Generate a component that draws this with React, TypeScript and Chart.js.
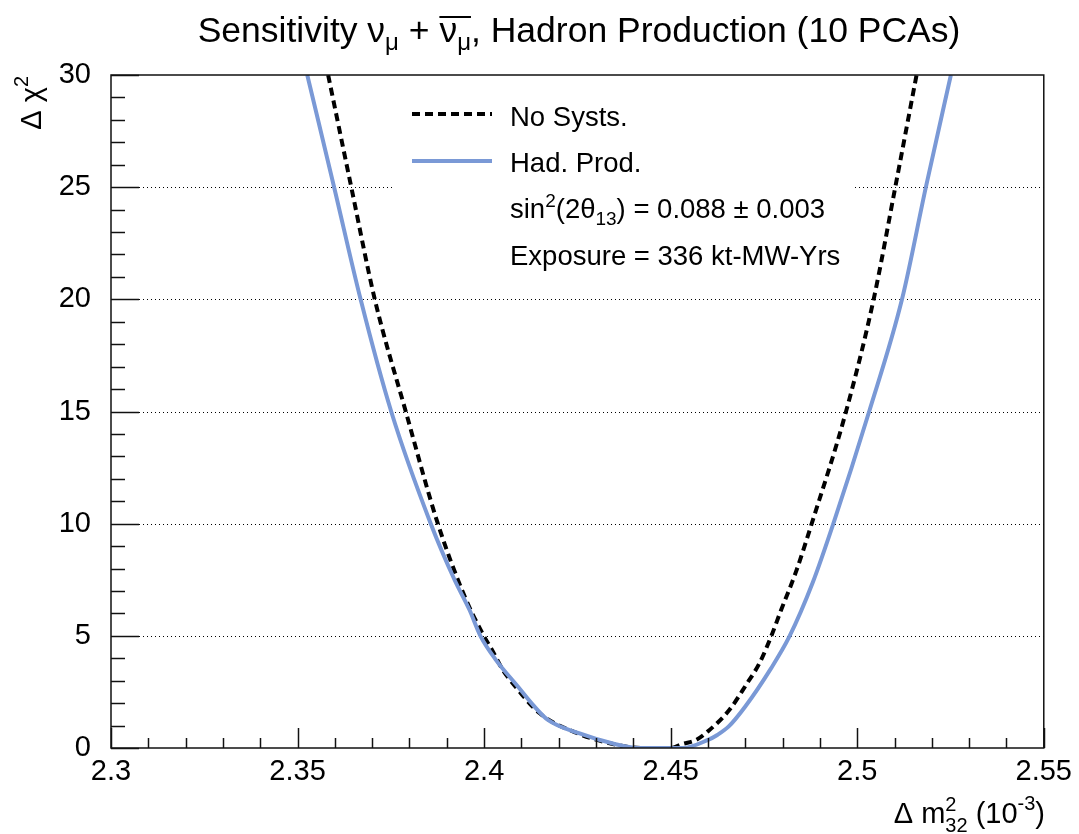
import React, { useEffect, useRef } from "react";
import { Chart, registerables } from "chart.js";

Chart.register(...registerables);

// ---------- data ----------
const hadProdX = [
  2.3526, 2.3598, 2.3669, 2.3751, 2.3857, 2.3921, 2.3961, 2.3990, 2.4032, 2.4091,
  2.4131, 2.4171, 2.4256, 2.4345, 2.4412, 2.4532, 2.4600, 2.4625, 2.4655, 2.4700,
  2.4769, 2.4818, 2.4880, 2.4936, 2.5032, 2.5120, 2.5184, 2.5251,
];
const hadProdY = [
  30, 25, 20, 15, 10, 7.49, 6.15, 5, 3.92, 2.73,
  1.92, 1.25, 0.65, 0.2, 0, 0, 0.36, 0.58, 0.95, 1.85,
  3.55, 4.96, 7.34, 10, 15, 20, 25, 30,
];
const noSystX = [
  2.3582, 2.3644, 2.3707, 2.3790, 2.3876, 2.3948, 2.3999, 2.4019, 2.4050, 2.4077,
  2.4149, 2.4256, 2.4345, 2.4420, 2.4500, 2.4532, 2.4568, 2.4599, 2.4657,
  2.4702, 2.4738, 2.4769, 2.4796, 2.4836, 2.4878, 2.4970, 2.5044, 2.5102, 2.5159,
];
const noSystY = [
  30, 25, 20, 15, 10, 6.75, 5, 4.44, 3.48, 2.88,
  1.55, 0.62, 0.18, 0, 0, 0.18, 0.36, 0.73, 1.69,
  2.81, 3.78, 4.96, 6.15, 7.86, 10, 15, 20, 25, 30,
];
const xTicks = [2.3, 2.35, 2.4, 2.45, 2.5, 2.55];
const yTicks = [0, 5, 10, 15, 20, 25, 30];
const seriesLabels = ["No Systs.", "Had. Prod."];
const thetaValue = "0.088";
const thetaError = "0.003";
const exposureText = "Exposure = 336 kt-MW-Yrs";

// ---------- style ----------
const FONT = '"Liberation Sans", Arial, Helvetica, sans-serif';
const BLUE = "rgb(122,153,214)";
const X_MINOR = 0.01;
const Y_MINOR = 1;

type Run = { t: string; size: number; dy?: number; stackNext?: boolean; over?: boolean };

function runsWidth(ctx: CanvasRenderingContext2D, runs: Run[]) {
  let w = 0;
  for (let i = 0; i < runs.length; i++) {
    const r = runs[i];
    ctx.font = `${r.size}px ${FONT}`;
    const rw = ctx.measureText(r.t).width;
    if (r.stackNext && i + 1 < runs.length) {
      ctx.font = `${runs[i + 1].size}px ${FONT}`;
      const nw = ctx.measureText(runs[i + 1].t).width;
      w += Math.max(rw, nw);
      i++;
    } else w += rw;
  }
  return w;
}

function drawRuns(ctx: CanvasRenderingContext2D, runs: Run[], x: number, y: number, align: "left" | "center" | "right") {
  const total = runsWidth(ctx, runs);
  let cx = align === "left" ? x : align === "center" ? x - total / 2 : x - total;
  ctx.textAlign = "left";
  ctx.textBaseline = "alphabetic";
  let overStart: number | null = null;
  for (let i = 0; i < runs.length; i++) {
    const r = runs[i];
    ctx.font = `${r.size}px ${FONT}`;
    if (r.over && overStart === null) overStart = cx;
    ctx.fillText(r.t, cx, y + (r.dy || 0));
    let rw = ctx.measureText(r.t).width;
    if (r.stackNext && i + 1 < runs.length) {
      const n = runs[i + 1];
      ctx.font = `${n.size}px ${FONT}`;
      ctx.fillText(n.t, cx, y + (n.dy || 0));
      rw = Math.max(rw, ctx.measureText(n.t).width);
      i++;
    }
    cx += rw;
    const next = runs[i + 1];
    if (overStart !== null && (!next || !next.over)) {
      ctx.save();
      ctx.lineWidth = 2;
      ctx.beginPath();
      ctx.moveTo(overStart, y - 25);
      ctx.lineTo(cx, y - 25);
      ctx.stroke();
      ctx.restore();
      overStart = null;
    }
  }
}

const rootPlugin = {
  id: "rootStyle",
  beforeDatasetsDraw(chart: any) {
    const { ctx, chartArea: a, scales } = chart;
    const y = scales.y;
    ctx.save();
    ctx.strokeStyle = "#000";
    ctx.lineWidth = 1;
    ctx.setLineDash([1, 3]);
    for (const v of yTicks) {
      if (v <= y.min || v >= y.max) continue;
      const py = Math.round(y.getPixelForValue(v)) + 0.5;
      ctx.beginPath();
      ctx.moveTo(a.left, py);
      ctx.lineTo(a.right, py);
      ctx.stroke();
    }
    ctx.setLineDash([]);
    // legend box (white, no border)
    ctx.fillStyle = "#fff";
    ctx.fillRect(395, 90, 458, 190);
    ctx.restore();
  },
  afterDatasetsDraw(chart: any) {
    const { ctx, chartArea: a, scales } = chart;
    const x = scales.x;
    const y = scales.y;
    ctx.save();
    ctx.strokeStyle = "#111";
    ctx.fillStyle = "#000";
    // frame
    ctx.lineWidth = 1.5;
    ctx.strokeRect(a.left, a.top, a.right - a.left, a.bottom - a.top);
    // y ticks
    const nY = Math.round((y.max - y.min) / Y_MINOR);
    for (let i = 0; i <= nY; i++) {
      const v = y.min + i * Y_MINOR;
      const py = Math.round(y.getPixelForValue(v)) + 0.5;
      const major = yTicks.some((t) => Math.abs(t - v) < 1e-9);
      const len = major ? 28 : 14;
      ctx.beginPath();
      ctx.moveTo(a.left, py);
      ctx.lineTo(a.left + len, py);
      ctx.stroke();
    }
    // x ticks
    const nX = Math.round((x.max - x.min) / X_MINOR);
    for (let i = 0; i <= nX; i++) {
      const v = x.min + i * X_MINOR;
      const px = Math.round(x.getPixelForValue(v)) + 0.5;
      const major = xTicks.some((t) => Math.abs(t - v) < 1e-9);
      const len = major ? 20 : 10;
      ctx.beginPath();
      ctx.moveTo(px, a.bottom);
      ctx.lineTo(px, a.bottom - len);
      ctx.stroke();
    }

    // legend
    const lx0 = 412, lx1 = 492, tx = 510;
    ctx.lineWidth = 4;
    ctx.strokeStyle = "#000";
    ctx.setLineDash([8, 5]);
    ctx.beginPath();
    ctx.moveTo(lx0, 114);
    ctx.lineTo(lx1, 114);
    ctx.stroke();
    ctx.setLineDash([]);
    ctx.strokeStyle = BLUE;
    ctx.beginPath();
    ctx.moveTo(lx0, 161);
    ctx.lineTo(lx1, 161);
    ctx.stroke();
    ctx.strokeStyle = "#000";
    const fs = 27.5;
    drawRuns(ctx, [{ t: seriesLabels[0], size: fs }], tx, 126, "left");
    drawRuns(ctx, [{ t: seriesLabels[1], size: fs }], tx, 172, "left");
    drawRuns(
      ctx,
      [
        { t: "sin", size: fs },
        { t: "2", size: 19, dy: -11 },
        { t: "(2\u03B8", size: fs },
        { t: "13", size: 19, dy: 7 },
        { t: `) = ${thetaValue} \u00B1 ${thetaError}`, size: fs },
      ],
      tx,
      218,
      "left"
    );
    drawRuns(ctx, [{ t: exposureText, size: fs }], tx, 265, "left");

    // title
    const ts = 35.5;
    drawRuns(
      ctx,
      [
        { t: "Sensitivity \u03BD", size: ts },
        { t: "\u03BC", size: 24, dy: 8 },
        { t: " + ", size: ts },
        { t: "\u03BD", size: ts, over: true },
        { t: "\u03BC", size: 24, dy: 8, over: true },
        { t: ", Hadron Production (10 PCAs)", size: ts },
      ],
      579,
      42,
      "center"
    );

    // x axis title
    drawRuns(
      ctx,
      [
        { t: "\u0394 m", size: 29 },
        { t: "2", size: 20, dy: -12, stackNext: true },
        { t: "32", size: 20, dy: 9 },
        { t: " (10", size: 29 },
        { t: "-3", size: 20, dy: -13 },
        { t: ")", size: 29 },
      ],
      1045,
      823,
      "right"
    );

    // y axis title (rotated)
    ctx.save();
    ctx.translate(41, 76);
    ctx.rotate(-Math.PI / 2);
    drawRuns(
      ctx,
      [
        { t: "\u0394 \u03C7", size: 29 },
        { t: "2", size: 20, dy: -13 },
      ],
      0,
      0,
      "right"
    );
    ctx.restore();
    ctx.restore();
  },
};

export default function App() {
  const ref = useRef<HTMLCanvasElement | null>(null);
  useEffect(() => {
    if (!ref.current) return;
    const chart = new Chart(ref.current, {
      type: "scatter",
      data: {
        datasets: [
          {
            label: seriesLabels[1],
            data: hadProdX.map((v, i) => ({ x: v, y: hadProdY[i] })),
            showLine: true,
            borderColor: BLUE,
            borderWidth: 4,
            pointRadius: 0,
            cubicInterpolationMode: "monotone",
            clip: 0,
          } as any,
          {
            label: seriesLabels[0],
            data: noSystX.map((v, i) => ({ x: v, y: noSystY[i] })),
            showLine: true,
            borderColor: "#000",
            borderWidth: 4,
            borderDash: [8, 5],
            pointRadius: 0,
            cubicInterpolationMode: "monotone",
            clip: 0,
          } as any,
        ],
      },
      options: {
        responsive: false,
        animation: false,
        events: [],
        layout: { padding: { top: 75, right: 34, left: 0, bottom: 0 } },
        plugins: {
          legend: { display: false },
          tooltip: { enabled: false },
          title: { display: false },
        },
        scales: {
          x: {
            type: "linear",
            min: 2.3,
            max: 2.55,
            afterFit: (s: any) => {
              s.height = 86;
            },
            afterBuildTicks: (s: any) => {
              s.ticks = xTicks.map((v) => ({ value: v }));
            },
            grid: { display: false, drawTicks: false },
            border: { display: false },
            ticks: {
              font: { family: FONT, size: 29 },
              color: "#000",
              padding: 7,
              maxRotation: 0,
              autoSkip: false,
              callback: (v: any) => String(Number(Number(v).toFixed(2))),
            },
          },
          y: {
            type: "linear",
            min: 0,
            max: 30,
            afterFit: (s: any) => {
              s.width = 111;
            },
            afterBuildTicks: (s: any) => {
              s.ticks = yTicks.map((v) => ({ value: v }));
            },
            grid: { display: false, drawTicks: false },
            border: { display: false },
            ticks: {
              font: { family: FONT, size: 29 },
              color: "#000",
              padding: 20,
              autoSkip: false,
              callback: (v: any) => String(v),
            },
          },
        },
      },
      plugins: [rootPlugin],
    });
    return () => chart.destroy();
  }, []);
  return (
    <div style={{ position: "absolute", left: 0, top: 0, width: 1079, height: 834, background: "#fff" }}>
      <canvas ref={ref} width={1079} height={834} style={{ display: "block" }} />
    </div>
  );
}
